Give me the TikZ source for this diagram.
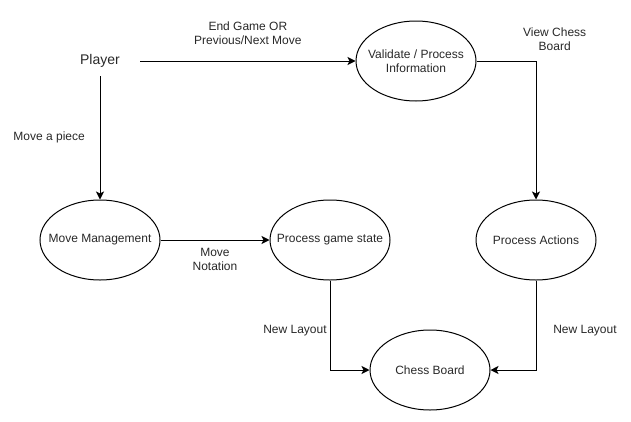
\documentclass[tikz,border=0pt]{standalone}
\usepackage{fontspec}
\setmainfont{Liberation Sans}
\usetikzlibrary{shapes.geometric,arrows.meta,positioning}
\definecolor{textgray}{RGB}{40,40,40}
\tikzset{
  proc/.style ={ellipse, draw=black, line width=0.75pt, minimum width=90pt,
                minimum height=60pt, align=center, inner xsep=-12pt, inner ysep=0pt,
                font=\fontsize{9}{10.5}\selectfont, text=textgray},
  ext/.style  ={rectangle, minimum width=60pt, minimum height=22.5pt,
                font=\fontsize{10.5}{12}\selectfont, text=textgray},
  flow/.style ={-{Stealth[length=6pt,width=6pt,inset=1.5pt]}, line width=0.75pt},
  lbl/.style  ={font=\fontsize{9}{10.5}\selectfont, text=textgray, align=center,
                inner sep=0pt}
}
\begin{document}
\begin{tikzpicture}[x=0.75pt, y=-0.75pt]
  \useasboundingbox (0,0) rectangle (631,421);
  \node[ext] (ply) at (100,61) {Player};
  \node[proc] (val) at (416,61) {Validate / Process\\Information};
  \node[proc] (mm) at (100,240) {Move Management};
  \node[proc] (pgs) at (330,240) {Process game state};
  \node[proc] (pa) at (536,240) {Process Actions};
  \node[proc] (cb) at (430,370) {Chess Board};

  \draw[flow] (ply) -- node[lbl, above=12pt]{End Game OR\\Previous/Next Move} (val);
  \draw[flow] (ply) -- node[lbl, left=11pt]{Move a piece} (mm);
  \draw[flow] (val) -| node[lbl, pos=0.5, xshift=14pt, yshift=16.5pt]{View Chess\\Board} (pa);
  \draw[flow] (mm) -- node[lbl, below=6pt]{Move\\Notation} (pgs);
  \draw[flow] (pgs) |- node[lbl, pos=0.25, xshift=-26.25pt, yshift=-3.75pt]{New Layout} (cb);
  \draw[flow] (pa) |- node[lbl, pos=0.25, xshift=36.75pt, yshift=-3.75pt]{New Layout} (cb);
\end{tikzpicture}
\end{document}
